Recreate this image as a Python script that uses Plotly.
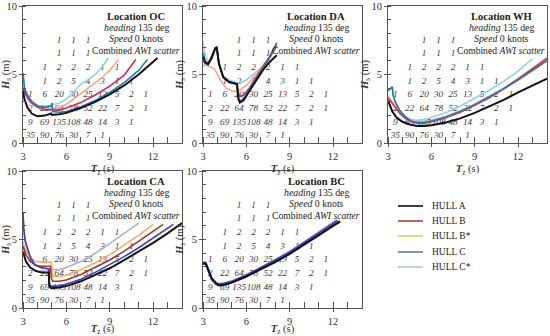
import plotly.graph_objects as go

# ---------------- data ----------------
hull_names = ["HULL A", "HULL B", "HULL B*", "HULL C", "HULL C*"]
panel_names = ["OC", "DA", "WH", "CA", "BC"]

# wave scatter (occurrences) : Hs bin centres x Tz bin centres
tz_centres = [3.5, 4.5, 5.5, 6.5, 7.5, 8.5, 9.5, 10.5, 11.5]
hs_centres = [0.5, 1.5, 2.5, 3.5, 4.5, 5.5, 6.5, 7.5]
scatter_counts = [
    [35, 90, 76, 30, 7, 1, None, None, None],
    [9, 69, 135, 108, 48, 14, 3, 1, None],
    [2, 22, 64, 78, 52, 22, 7, 2, 1],
    [1, 6, 20, 30, 25, 13, 5, 2, 1],
    [None, 1, 2, 5, 4, 3, 1, 1, None],
    [None, 1, 2, 2, 2, 1, 1, None, None],
    [None, None, 1, 1, 1, None, None, None, None],
    [None, None, 1, 1, 1, None, None, None, None],
]

# operability limit curves (Tz, Hs) per panel, per hull (A, B, B*, C, C*)
OC_A_tz = [3.0, 3.1, 3.3, 3.6, 4.0, 4.5, 4.95, 5.0, 5.5, 6, 7, 8, 9, 10, 11, 12, 12.3]
OC_A_hs = [3.8, 3.2, 2.6, 2.15, 1.95, 2.0, 2.15, 2.05, 2.1, 2.2, 2.55, 3.0, 3.55, 4.2, 5.0, 5.9, 6.2]
OC_B_tz = [3.0, 3.2, 3.5, 4.0, 4.5, 5.0, 5.5, 6, 7, 8, 9, 10, 10.8]
OC_B_hs = [4.0, 3.5, 3.0, 2.6, 2.45, 2.4, 2.4, 2.55, 2.95, 3.5, 4.15, 4.95, 6.1]
OC_Bs_tz = [3.0, 3.2, 3.5, 4.0, 4.5, 5.0, 5.5, 6, 6.5, 7, 7.5, 8, 8.5, 9, 9.6]
OC_Bs_hs = [4.2, 3.7, 3.2, 2.75, 2.55, 2.5, 2.6, 2.85, 3.2, 3.6, 3.95, 4.35, 4.8, 5.3, 6.1]
OC_C_tz = [3.0, 3.05, 3.1, 3.3, 3.6, 4.0, 4.5, 4.95, 5.0, 5.05, 5.5, 6, 7, 8, 9, 10, 11, 11.6]
OC_C_hs = [5.1, 4.6, 4.0, 3.5, 3.0, 2.7, 2.6, 2.7, 2.9, 2.3, 2.25, 2.3, 2.65, 3.1, 3.7, 4.4, 5.3, 6.1]
OC_Cs_tz = [3.0, 3.05, 3.1, 3.3, 3.6, 4.0, 4.5, 4.95, 5.0, 5.1, 5.5, 6, 6.5, 7, 7.5, 8, 8.5, 8.9]
OC_Cs_hs = [5.1, 4.6, 4.0, 3.5, 3.0, 2.7, 2.6, 2.7, 2.9, 2.8, 2.9, 3.2, 3.7, 4.3, 4.6, 5.0, 5.6, 6.2]

DA_A_tz = [3.0, 3.15, 3.35, 3.6, 3.85, 3.95, 4.1, 4.4, 4.8, 5.35, 5.45, 5.55, 5.8, 6.2, 6.7, 7.2, 7.6, 8.1]
DA_A_hs = [6.3, 5.9, 5.75, 6.2, 6.9, 7.0, 5.8, 4.8, 4.45, 4.3, 3.2, 2.95, 3.1, 3.8, 4.6, 5.4, 5.9, 6.4]
DA_B_tz = [3.0, 3.15, 3.35, 3.6, 3.85, 3.95, 4.1, 4.4, 4.8, 5.35, 5.45, 5.55, 5.8, 6.2, 6.7, 7.2, 7.6, 8.1]
DA_B_hs = [6.0, 5.8, 5.75, 6.3, 6.95, 7.0, 5.8, 4.8, 4.45, 4.3, 3.6, 3.4, 3.5, 4.0, 4.8, 5.6, 6.3, 7.3]
DA_Bs_tz = [3.0, 3.4, 3.8, 4.2, 4.6, 5.0, 5.4, 5.6, 6.0, 6.5, 7.0, 7.5, 8.0]
DA_Bs_hs = [5.7, 5.6, 5.4, 4.6, 4.0, 3.8, 3.75, 3.9, 4.2, 4.8, 5.4, 6.0, 6.9]
DA_C_tz = [3.0, 3.15, 3.35, 3.6, 3.85, 3.95, 4.1, 4.4, 4.8, 5.35, 5.45, 5.55, 5.8, 6.2, 6.7, 7.2, 7.6, 8.1]
DA_C_hs = [6.6, 5.95, 5.8, 6.3, 6.95, 7.0, 5.8, 4.8, 4.45, 4.3, 3.3, 3.05, 3.25, 3.9, 4.7, 5.5, 6.2, 7.1]
DA_Cs_tz = [3.0, 3.1, 3.35, 3.6, 3.85, 3.95, 4.1, 4.4, 4.8, 5.35, 5.6, 6.0, 6.5, 7.0, 7.5, 8.1]
DA_Cs_hs = [7.4, 6.6, 5.9, 6.3, 6.95, 7.0, 5.8, 4.9, 4.6, 4.4, 4.4, 4.6, 5.0, 5.5, 6.1, 7.2]

WH_A_tz = [3.0, 3.1, 3.3, 3.6, 4.0, 4.5, 5.0, 5.5, 6, 7, 8, 9, 10, 11, 12, 13, 14]
WH_A_hs = [3.1, 2.8, 2.3, 1.85, 1.55, 1.35, 1.25, 1.25, 1.3, 1.5, 1.8, 2.2, 2.65, 3.15, 3.7, 4.2, 4.7]
WH_B_tz = [3.0, 3.2, 3.5, 3.8, 4.2, 4.6, 5.0, 5.5, 6, 7, 8, 9, 10, 11, 12, 13, 14]
WH_B_hs = [3.3, 3.0, 2.6, 2.2, 1.8, 1.55, 1.45, 1.45, 1.55, 1.85, 2.25, 2.75, 3.3, 3.95, 4.65, 5.4, 6.15]
WH_Bs_tz = [3.0, 3.2, 3.5, 3.8, 4.2, 4.6, 5.0, 5.5, 6, 7, 8, 9, 10, 11, 12, 13, 14]
WH_Bs_hs = [3.4, 3.1, 2.7, 2.3, 1.9, 1.65, 1.55, 1.55, 1.65, 1.95, 2.35, 2.85, 3.4, 4.0, 4.7, 5.45, 6.25]
WH_C_tz = [3.0, 3.15, 3.3, 3.35, 3.5, 3.8, 4.2, 4.6, 5.0, 5.5, 6, 7, 8, 9, 10, 11, 12, 13, 14]
WH_C_hs = [3.8, 3.95, 4.1, 3.5, 3.0, 2.4, 1.9, 1.6, 1.5, 1.5, 1.6, 1.9, 2.3, 2.8, 3.35, 3.95, 4.6, 5.3, 6.0]
WH_Cs_tz = [3.0, 3.15, 3.3, 3.35, 3.5, 3.8, 4.2, 4.6, 5.0, 5.5, 6, 7, 8, 9, 10, 11, 12, 13]
WH_Cs_hs = [3.8, 3.95, 4.1, 3.5, 3.0, 2.4, 1.95, 1.7, 1.65, 1.7, 1.85, 2.2, 2.7, 3.25, 3.85, 4.5, 5.25, 6.15]

CA_A_tz = [3.0, 3.2, 3.5, 3.9, 4.3, 4.78, 4.82, 4.95, 5.5, 6, 7, 8, 9, 10, 11, 12, 13, 14]
CA_A_hs = [4.1, 3.4, 2.95, 2.7, 2.6, 2.6, 1.6, 1.45, 1.5, 1.6, 1.95, 2.4, 2.9, 3.5, 4.1, 4.75, 5.45, 6.2]
CA_B_tz = [3.0, 3.2, 3.5, 3.9, 4.3, 4.9, 4.95, 5.05, 5.5, 6, 7, 8, 9, 10, 11, 12, 12.7]
CA_B_hs = [4.5, 3.9, 3.4, 3.1, 3.05, 3.05, 2.2, 1.95, 1.95, 2.05, 2.45, 2.95, 3.5, 4.15, 4.85, 5.6, 6.1]
CA_Bs_tz = [3.0, 3.2, 3.5, 3.9, 4.3, 4.95, 5.0, 5.05, 5.5, 6, 7, 8, 9, 10, 11, 12]
CA_Bs_hs = [4.8, 4.2, 3.7, 3.4, 3.35, 3.35, 3.0, 2.3, 2.3, 2.4, 2.8, 3.3, 3.9, 4.6, 5.3, 6.1]
CA_C_tz = [3.0, 3.05, 3.15, 3.3, 3.5, 3.8, 4.2, 4.8, 4.82, 4.9, 5.5, 6, 7, 8, 9, 10, 11, 12, 13, 13.4]
CA_C_hs = [7.0, 5.8, 4.9, 4.3, 3.7, 3.2, 2.95, 2.85, 1.8, 1.6, 1.6, 1.75, 2.1, 2.6, 3.15, 3.75, 4.4, 5.1, 5.8, 6.1]
CA_Cs_tz = [3.0, 3.05, 3.15, 3.3, 3.5, 3.8, 4.2, 4.8, 5.0, 5.5, 6, 7, 8, 9, 10, 11]
CA_Cs_hs = [7.0, 5.8, 4.9, 4.3, 3.7, 3.2, 2.95, 2.85, 2.8, 2.8, 2.95, 3.4, 4.0, 4.7, 5.45, 6.2]

BC_A_tz = [3.0, 3.1, 3.2, 3.4, 3.6, 3.9, 4.1, 4.5, 5, 6, 7, 8, 9, 10, 11, 12, 12.5]
BC_A_hs = [3.2, 3.25, 3.2, 2.6, 2.1, 1.75, 1.65, 1.7, 1.85, 2.3, 2.8, 3.35, 3.95, 4.6, 5.3, 6.0, 6.3]
BC_B_tz = [3.0, 3.1, 3.2, 3.4, 3.6, 3.9, 4.1, 4.5, 5, 6, 7, 8, 9, 10, 11, 12, 12.45]
BC_B_hs = [3.25, 3.3, 3.25, 2.65, 2.15, 1.8, 1.7, 1.75, 1.9, 2.35, 2.86, 3.42, 4.02, 4.68, 5.38, 6.08, 6.35]
BC_Bs_tz = [3.0, 3.1, 3.2, 3.4, 3.6, 3.9, 4.1, 4.5, 5, 6, 7, 8, 9, 10, 11, 12, 12.45]
BC_Bs_hs = [3.25, 3.3, 3.25, 2.65, 2.15, 1.8, 1.7, 1.75, 1.88, 2.33, 2.84, 3.4, 4.0, 4.66, 5.36, 6.05, 6.35]
BC_C_tz = [3.0, 3.1, 3.2, 3.4, 3.6, 3.9, 4.1, 4.5, 5, 6, 7, 8, 9, 10, 11, 12, 12.3]
BC_C_hs = [3.3, 3.35, 3.3, 2.7, 2.2, 1.85, 1.75, 1.8, 1.95, 2.4, 2.92, 3.5, 4.1, 4.78, 5.5, 6.2, 6.4]
BC_Cs_tz = [3.0, 3.1, 3.2, 3.4, 3.6, 3.9, 4.1, 4.5, 5, 6, 7, 8, 9, 10, 11, 12, 12.25]
BC_Cs_hs = [3.3, 3.35, 3.3, 2.7, 2.2, 1.87, 1.78, 1.83, 1.98, 2.44, 2.96, 3.55, 4.15, 4.83, 5.56, 6.27, 6.45]

x_ticks = [3, 6, 9, 12]
y_ticks = [0, 5, 10]

# ---------------- styling ----------------
colors_1 = ["#111111", "#d8284c", "#f7a48c", "#1f7fb2", "#8fd2e8"]
colors_2 = ["#111111", "#a8321f", "#f2ad6c", "#3c3cc4", "#ababeb"]
legend_colors = ["#111111", "#a8403a", "#e8c070", "#5878b8", "#b0c0e0"]
FONT = "Liberation Serif"

curves = {
    "OC": [(OC_A_tz, OC_A_hs), (OC_B_tz, OC_B_hs), (OC_Bs_tz, OC_Bs_hs), (OC_C_tz, OC_C_hs), (OC_Cs_tz, OC_Cs_hs)],
    "DA": [(DA_A_tz, DA_A_hs), (DA_B_tz, DA_B_hs), (DA_Bs_tz, DA_Bs_hs), (DA_C_tz, DA_C_hs), (DA_Cs_tz, DA_Cs_hs)],
    "WH": [(WH_A_tz, WH_A_hs), (WH_B_tz, WH_B_hs), (WH_Bs_tz, WH_Bs_hs), (WH_C_tz, WH_C_hs), (WH_Cs_tz, WH_Cs_hs)],
    "CA": [(CA_A_tz, CA_A_hs), (CA_B_tz, CA_B_hs), (CA_Bs_tz, CA_Bs_hs), (CA_C_tz, CA_C_hs), (CA_Cs_tz, CA_Cs_hs)],
    "BC": [(BC_A_tz, BC_A_hs), (BC_B_tz, BC_B_hs), (BC_Bs_tz, BC_Bs_hs), (BC_C_tz, BC_C_hs), (BC_Cs_tz, BC_Cs_hs)],
}
panel_colors = {"OC": colors_1, "DA": colors_1, "WH": colors_1, "CA": colors_2, "BC": colors_2}

W, H = 550, 336
col_px = [(23, 182), (203, 362), (388, 547)]
row_px = [(6, 143), (171, 308)]
panel_pos = {"OC": (0, 0), "DA": (0, 1), "WH": (0, 2), "CA": (1, 0), "BC": (1, 1)}

fig = go.Figure()
draw_order = [4, 2, 1, 3, 0]

# flattened scatter table
sc_x, sc_y, sc_t = [], [], []
for i, hs in enumerate(hs_centres):
    for j, tz in enumerate(tz_centres):
        v = scatter_counts[i][j]
        if v is not None:
            sc_x.append(tz); sc_y.append(hs); sc_t.append(str(v))

for k, p in enumerate(panel_names):
    sfx = "" if k == 0 else str(k + 1)
    xa, ya = "x" + sfx, "y" + sfx
    r, c = panel_pos[p]
    fig.add_trace(go.Scatter(x=sc_x, y=sc_y, text=sc_t, mode="text", xaxis=xa, yaxis=ya,
                             textfont=dict(family=FONT, size=9.2, style="italic", color="#3a3a3a"),
                             showlegend=False, hoverinfo="skip"))
    for h in draw_order:
        tz, hs = curves[p][h]
        fig.add_trace(go.Scatter(x=tz, y=hs, mode="lines", xaxis=xa, yaxis=ya,
                                 line=dict(color=panel_colors[p][h], width=2.0 if h == 0 else 1.6),
                                 name=hull_names[h], showlegend=False))
    x0, x1 = col_px[c]
    y0, y1 = row_px[r]
    axis_common = dict(showline=True, linecolor="#555", linewidth=1, mirror=True, automargin=False,
                       showgrid=False, zeroline=False, ticks="outside", ticklen=3, tickcolor="#555",
                       tickfont=dict(family=FONT, size=10.5, color="#333"))
    fig.layout["xaxis" + sfx] = dict(
        axis_common, domain=[x0 / W, x1 / W], anchor=ya, range=[3, 14], tickvals=x_ticks,
        minor=dict(dtick=1, tick0=3, ticks="inside", ticklen=6, tickcolor="#555"),
        title=dict(text="<b><i>T</i></b><sub>z</sub> (s)", font=dict(family=FONT, size=10.5, color="#333"), standoff=4))
    fig.layout["yaxis" + sfx] = dict(
        axis_common, domain=[1 - y1 / H, 1 - y0 / H], anchor=xa, range=[0, 10], tickvals=y_ticks,
        minor=dict(dtick=1, tick0=0, ticks="inside", ticklen=3, tickcolor="#555"),
        title=dict(text="<b><i>H</i></b><sub>s</sub> (m)", font=dict(family=FONT, size=10.5, color="#333"), standoff=0))
    # info text block
    lines = ["<b>Location %s</b>" % p, "<i>heading</i> 135 deg", "<i>Speed</i> 0 knots", "Combined <i>AWI scatter</i>"]
    sizes = [10.5, 9.8, 9.8, 9.6]
    for txt, yy, fs in zip(lines, [9.27, 8.42, 7.6, 6.75], sizes):
        fig.add_annotation(x=10.85, y=yy, xref=xa, yref=ya, text=txt, showarrow=False,
                           font=dict(family=FONT, size=fs, color="#222"), xanchor="center", yanchor="middle")

# legend (drawn in paper space with the reference's compact spacing)
leg_y = [206, 221, 236, 252, 267]
for h in range(5):
    yp = 1 - leg_y[h] / H
    fig.add_shape(type="line", xref="paper", yref="paper", x0=398 / W, x1=423 / W, y0=yp, y1=yp,
                  line=dict(color=legend_colors[h], width=1.6))
    fig.add_annotation(x=430 / W, y=yp, xref="paper", yref="paper", text=hull_names[h], showarrow=False,
                       xanchor="left", yanchor="middle", font=dict(family=FONT, size=9.5, color="#222"))

fig.update_layout(
    width=W, height=H, margin=dict(l=0, r=0, t=0, b=0),
    paper_bgcolor="white", plot_bgcolor="white", showlegend=False,
)
fig.write_html("out.html", config={"displayModeBar": False},
               post_script="document.body.style.margin='0px';document.body.style.padding='0px';")
